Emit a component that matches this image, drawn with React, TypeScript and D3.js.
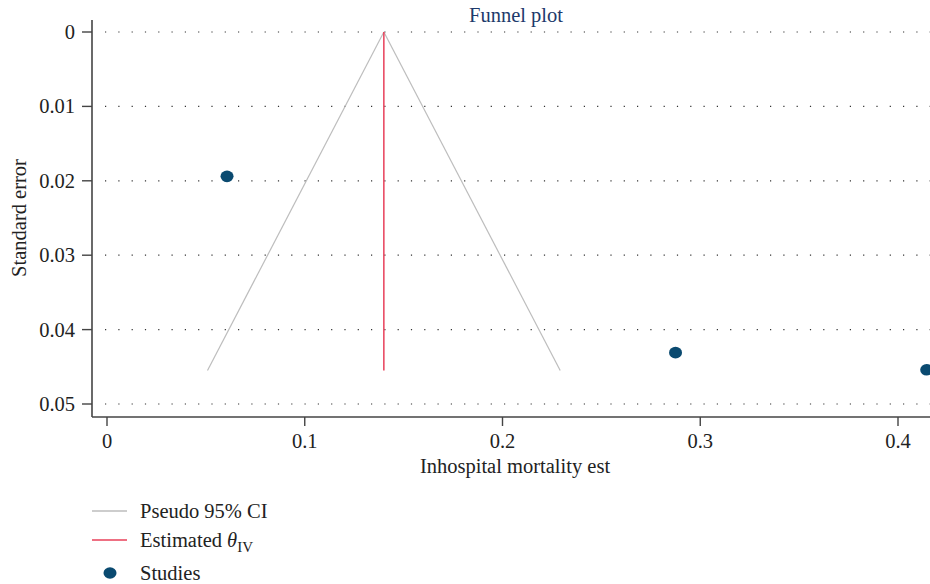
import React from 'react';
import * as d3 from 'd3';

// study estimates and their standard errors
const studyEst = [0.0607, 0.2875, 0.4145];
const studySE = [0.0194, 0.0431, 0.0454];

// pooled estimate and the deepest SE reached by the funnel
const thetaIV = 0.140;
const maxSE = 0.0455;

const xTicks = [0, 0.1, 0.2, 0.3, 0.4];
const yTicks = [0, 0.01, 0.02, 0.03, 0.04, 0.05];

const W = 930;
const H = 584;
const font = '"Liberation Serif", "DejaVu Serif", serif';
const fs = 20.5;

export default function App() {
    const x = d3.scaleLinear().domain([0, 0.4]).range([107, 898]);
    const y = d3.scaleLinear().domain([0, 0.05]).range([32, 404]);

    const axisX = 92;
    const axisY = 417;
    const gray = '#bdbdbd';
    const red = '#e8405a';
    const dot = '#0a4a70';

    // funnel edges: theta +/- 1.96 SE
    const funnel = d3.line<[number, number]>()
        .x(d => x(d[0]))
        .y(d => y(d[1]));
    const left: [number, number][] = [[thetaIV - 1.96 * maxSE, maxSE], [thetaIV, 0]];
    const right: [number, number][] = [[thetaIV, 0], [thetaIV + 1.96 * maxSE, maxSE]];

    return (
        <svg width={W} height={H} style={{position: 'absolute', left: 0, top: 0, background: '#fff'}}
             fontFamily={font}>
            <text x={516} y={22} textAnchor="middle" fontSize={fs} fill="#1d3a6b">Funnel plot</text>

            {/* dotted gridlines */}
            {yTicks.map(t => (
                <line key={'g' + t} x1={105} x2={W} y1={y(t)} y2={y(t)}
                      stroke="#333" strokeWidth={1.2} strokeDasharray="1.2 12.1"/>
            ))}

            <path d={funnel(left) || ''} fill="none" stroke={gray} strokeWidth={1.2}/>
            <path d={funnel(right) || ''} fill="none" stroke={gray} strokeWidth={1.2}/>
            <line x1={x(thetaIV)} x2={x(thetaIV)} y1={y(0)} y2={y(maxSE)} stroke={red} strokeWidth={1.5}/>

            {studyEst.map((e, i) => (
                <ellipse key={'s' + i} cx={x(e)} cy={y(studySE[i])} rx={6.5} ry={5.8} fill={dot}/>
            ))}

            {/* axes */}
            <line x1={axisX} x2={axisX} y1={20} y2={axisY} stroke="#444" strokeWidth={1.6}/>
            <line x1={axisX} x2={W} y1={axisY} y2={axisY} stroke="#444" strokeWidth={1.6}/>
            {yTicks.map(t => (
                <g key={'y' + t}>
                    <line x1={82} x2={axisX} y1={y(t)} y2={y(t)} stroke="#444" strokeWidth={1.4}/>
                    <text x={75} y={y(t) + 7} textAnchor="end" fontSize={fs} fill="#222">{t === 0 ? '0' : t.toFixed(2)}</text>
                </g>
            ))}
            {xTicks.map(t => (
                <g key={'x' + t}>
                    <line x1={x(t)} x2={x(t)} y1={axisY} y2={axisY + 9} stroke="#444" strokeWidth={1.4}/>
                    <text x={x(t)} y={axisY + 31} textAnchor="middle" fontSize={fs} fill="#222">{t === 0 ? '0' : t.toFixed(1)}</text>
                </g>
            ))}
            <text transform={`translate(26, 218) rotate(-90)`} textAnchor="middle" fontSize={fs} fill="#222">Standard error</text>
            <text x={515} y={473} textAnchor="middle" fontSize={fs} fill="#222">Inhospital mortality est</text>

            {/* legend */}
            <line x1={92} x2={127} y1={511} y2={511} stroke={gray} strokeWidth={1.4}/>
            <text x={140} y={518} fontSize={fs} fill="#222">Pseudo 95% CI</text>
            <line x1={92} x2={127} y1={540} y2={540} stroke={red} strokeWidth={1.4}/>
            <text x={140} y={547} fontSize={fs} fill="#222">
                Estimated <tspan fontStyle="italic">θ</tspan><tspan fontSize={15} dy={5}>IV</tspan>
            </text>
            <ellipse cx={110} cy={573} rx={6.5} ry={5.8} fill={dot}/>
            <text x={140} y={580} fontSize={fs} fill="#222">Studies</text>
        </svg>
    );
}
